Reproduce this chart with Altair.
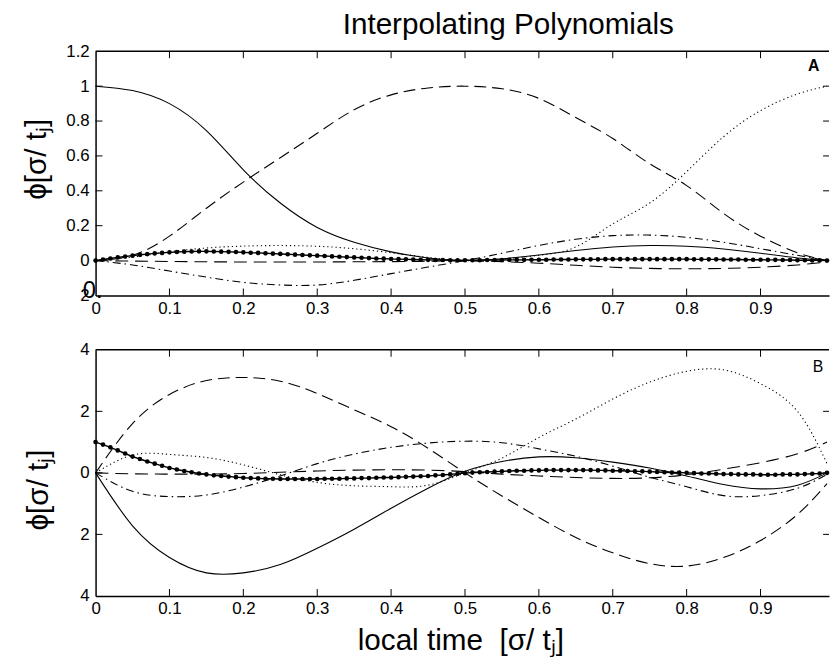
import altair as alt
import pandas as pd

FONT = "Liberation Sans"
W = 742
XMAX = 0.9927
HA = 247
HB = 249

# ---------------- data ----------------
x_coarse = [0.0, 0.05, 0.1, 0.15, 0.2, 0.25, 0.3, 0.35, 0.4, 0.45, 0.5,
            0.55, 0.6, 0.65, 0.7, 0.75, 0.8, 0.85, 0.9, 0.95, 0.99]
x_fine = [round(i * 0.01, 2) for i in range(100)]
x_label_vals = [0, 0.1, 0.2, 0.3, 0.4, 0.5, 0.6, 0.7, 0.8, 0.9]
x_tick_vals = [0.1, 0.2, 0.3, 0.4, 0.5, 0.6, 0.7, 0.8, 0.9]

# Panel A
a_solid = [1.0, 0.975, 0.9, 0.745, 0.52, 0.33, 0.19, 0.105, 0.05, 0.015, 0.0,
           0.01, 0.032, 0.058, 0.078, 0.086, 0.082, 0.066, 0.042, 0.015, 0.001]
a_dashed = [0.0, 0.03, 0.14, 0.3, 0.45, 0.59, 0.73, 0.865, 0.95, 0.99, 1.0,
            0.985, 0.93, 0.82, 0.70, 0.555, 0.43, 0.27, 0.14, 0.045, 0.0]
a_dotted = [0.0, 0.02, 0.05, 0.072, 0.083, 0.086, 0.082, 0.068, 0.045, 0.018, 0.0,
            0.008, 0.03, 0.078, 0.21, 0.33, 0.51, 0.71, 0.86, 0.955, 1.0]
a_dashdot = [0.0, -0.025, -0.06, -0.095, -0.125, -0.14, -0.14, -0.113, -0.075, -0.037, 0.0,
             0.042, 0.087, 0.122, 0.143, 0.146, 0.133, 0.105, 0.068, 0.03, 0.0]
a_longdash = [0.0, -0.003, -0.005, -0.007, -0.008, -0.008, -0.008, -0.007, -0.006, -0.004, -0.002,
              -0.006, -0.015, -0.027, -0.038, -0.045, -0.047, -0.045, -0.038, -0.025, -0.008]
a_markers = [0.000, 0.006, 0.012, 0.018, 0.023, 0.028, 0.033, 0.037, 0.041, 0.044,
             0.047, 0.049, 0.051, 0.052, 0.053, 0.053, 0.052, 0.051, 0.050, 0.049,
             0.047, 0.045, 0.044, 0.042, 0.040, 0.038, 0.036, 0.034, 0.032, 0.030,
             0.028, 0.026, 0.024, 0.022, 0.020, 0.018, 0.016, 0.014, 0.012, 0.011,
             0.009, 0.008, 0.007, 0.006, 0.005, 0.004, 0.003, 0.003, 0.002, 0.002,
             0.002, 0.002, 0.002, 0.003, 0.003, 0.003, 0.004, 0.004, 0.004, 0.005,
             0.005, 0.005, 0.006, 0.006, 0.006, 0.007, 0.007, 0.007, 0.007, 0.008,
             0.008, 0.008, 0.008, 0.008, 0.008, 0.008, 0.008, 0.008, 0.008, 0.008,
             0.008, 0.007, 0.007, 0.007, 0.007, 0.006, 0.006, 0.006, 0.005, 0.005,
             0.005, 0.004, 0.004, 0.003, 0.003, 0.002, 0.002, 0.001, 0.001, 0.000]
a_y_vals = [-0.2, 0, 0.2, 0.4, 0.6, 0.8, 1.0, 1.2]
a_y_ticks = [0, 0.2, 0.4, 0.6, 0.8, 1.0]

# Panel B
b_solid = [0.0, -1.72, -2.75, -3.25, -3.25, -2.98, -2.45, -1.83, -1.15, -0.5, 0.05,
           0.37, 0.52, 0.49, 0.35, 0.16, -0.1, -0.38, -0.52, -0.4, 0.0]
b_dashed = [0.0, 1.6, 2.55, 3.0, 3.1, 2.98, 2.58, 2.05, 1.5, 0.8, 0.0,
            -0.75, -1.45, -2.1, -2.6, -2.95, -3.03, -2.75, -2.2, -1.35, -0.35]
b_dotted = [0.0, 0.58, 0.6, 0.5, 0.26, -0.06, -0.31, -0.42, -0.45, -0.4, 0.0,
            0.48, 1.15, 1.75, 2.4, 2.95, 3.3, 3.35, 2.9, 2.0, 0.3]
b_dashdot = [0.0, -0.6, -0.77, -0.72, -0.46, -0.1, 0.3, 0.61, 0.83, 0.97, 1.03,
             0.98, 0.78, 0.54, 0.22, -0.14, -0.45, -0.74, -0.74, -0.5, -0.05]
b_longdash = [0.0, -0.03, -0.04, -0.04, -0.02, 0.02, 0.06, 0.09, 0.1, 0.09, 0.04,
              -0.04, -0.1, -0.15, -0.18, -0.16, -0.06, 0.12, 0.33, 0.62, 1.0]
b_markers = [1.00, 0.92, 0.83, 0.73, 0.63, 0.53, 0.45, 0.37, 0.30, 0.23,
             0.16, 0.11, 0.06, 0.02, -0.02, -0.05, -0.08, -0.10, -0.12, -0.14,
             -0.16, -0.17, -0.18, -0.19, -0.19, -0.20, -0.20, -0.20, -0.20, -0.20,
             -0.20, -0.19, -0.19, -0.19, -0.18, -0.18, -0.17, -0.17, -0.16, -0.15,
             -0.15, -0.14, -0.13, -0.12, -0.11, -0.10, -0.08, -0.07, -0.05, -0.03,
             -0.01, 0.01, 0.02, 0.03, 0.04, 0.05, 0.06, 0.07, 0.07, 0.08,
             0.08, 0.09, 0.09, 0.09, 0.09, 0.09, 0.09, 0.09, 0.08, 0.08,
             0.07, 0.07, 0.06, 0.05, 0.05, 0.04, 0.03, 0.02, 0.01, 0.01,
             0.00, -0.01, -0.02, -0.02, -0.03, -0.04, -0.04, -0.05, -0.05, -0.05,
             -0.06, -0.06, -0.06, -0.05, -0.05, -0.05, -0.04, -0.03, -0.02, 0.00]
b_y_vals = [-4, -2, 0, 2, 4]
b_y_ticks = [-2, 0, 2]

title_text = "Interpolating Polynomials"
y_title = "\u03d5[\u03c3/ t\u2c7c]"
x_title = "local time\u00a0 [\u03c3/ t\u2c7c]"

STYLES = {
    "solid": dict(),
    "dashed": dict(strokeDash=[12, 6]),
    "dotted": dict(strokeDash=[1.2, 3]),
    "dashdot": dict(strokeDash=[8, 4, 1.5, 4]),
    "longdash": dict(strokeDash=[13, 7]),
}


def build_panel(curves, markers, ydom, yvals, yticks, H, ylabel_expr,
                ytitle_x, ytitle_y, xtitle, letter, letter_xy, extras):
    xaxis_kw = dict(values=x_label_vals,
                    labelExpr="'' + round(datum.value*10)/10",
                    labelFont=FONT, labelFontSize=17, labelColor="black",
                    labelPadding=5, labelFlush=False, labelOverlap=False,
                    ticks=False, grid=False, domainColor="black", domainWidth=1.5)
    if xtitle:
        xaxis = alt.Axis(title=xtitle, titleFont=FONT, titleFontSize=30,
                         titleFontWeight="normal", titleColor="black",
                         titleX=W / 2 - 2, titleY=54, titleBaseline="alphabetic",
                         **xaxis_kw)
    else:
        xaxis = alt.Axis(title=None, **xaxis_kw)
    yaxis = alt.Axis(values=yvals, labelExpr=ylabel_expr,
                     labelFont=FONT, labelFontSize=17, labelColor="black",
                     labelPadding=6.5, labelFlush=False, labelOverlap=False,
                     ticks=False, grid=False, domainColor="black", domainWidth=1.5,
                     title=y_title, titleFont=FONT, titleFontSize=30,
                     titleFontWeight="normal", titleColor="black",
                     titleX=ytitle_x, titleY=ytitle_y, titleAngle=270,
                     titleBaseline="alphabetic")
    X = alt.X("x:Q", scale=alt.Scale(domain=[0, XMAX], nice=False, zero=False), axis=xaxis)
    Y = alt.Y("y:Q", scale=alt.Scale(domain=ydom, nice=False, zero=False), axis=yaxis)

    layers = []
    for style, vals in curves:
        df = pd.DataFrame({"x": x_coarse, "y": vals})
        layers.append(alt.Chart(df).mark_line(color="black", strokeWidth=1.1,
                                              interpolate="natural",
                                              **STYLES[style]).encode(x=X, y=Y))
    mdf = pd.DataFrame({"x": x_fine, "y": markers})
    layers.append(alt.Chart(mdf).mark_line(color="black", strokeWidth=1.4).encode(x=X, y=Y))
    layers.append(alt.Chart(mdf).mark_point(filled=True, shape="circle", size=22,
                                            color="black", opacity=1).encode(x=X, y=Y))
    # inward ticks
    xt = pd.DataFrame({"x": x_tick_vals})
    layers.append(alt.Chart(xt).mark_rule(color="black", strokeWidth=1).encode(
        x=X, y=alt.value(H), y2=alt.value(H - 7)))
    layers.append(alt.Chart(xt).mark_rule(color="black", strokeWidth=1).encode(
        x=X, y=alt.value(0), y2=alt.value(7)))
    yt = pd.DataFrame({"y": yticks})
    layers.append(alt.Chart(yt).mark_rule(color="black", strokeWidth=1).encode(
        y=Y, x=alt.value(0), x2=alt.value(7)))
    layers.append(alt.Chart(yt).mark_rule(color="black", strokeWidth=1).encode(
        y=Y, x=alt.value(W - 6), x2=alt.value(W)))
    # top frame
    layers.append(alt.Chart(pd.DataFrame({"k": [0]})).mark_rule(
        color="black", strokeWidth=1.5).encode(
        x=alt.value(0), x2=alt.value(W), y=alt.value(0)))
    # panel letter
    layers.append(alt.Chart(pd.DataFrame({"t": [letter[0]]})).mark_text(
        font=FONT, fontSize=16, fontWeight=letter[1], color="black",
        align="center", baseline="alphabetic").encode(
        text="t:N", x=alt.value(letter_xy[0]), y=alt.value(letter_xy[1])))
    for t, xv, yv, fs, al in extras:
        layers.append(alt.Chart(pd.DataFrame({"t": [t]})).mark_text(
            font=FONT, fontSize=fs, color="black", align=al,
            baseline="alphabetic").encode(
            text="t:N", x=alt.value(xv), y=alt.value(yv)))
    return alt.layer(*layers).properties(width=W, height=H)


top = build_panel(
    [("solid", a_solid), ("dashed", a_dashed), ("dotted", a_dotted),
     ("dashdot", a_dashdot), ("longdash", a_longdash)],
    a_markers, [-0.2, 1.2], a_y_vals, a_y_ticks, HA,
    "datum.value < -0.1 ? '2' : '' + round(datum.value*10)/10",
    -50.5, 108.7, None, ("A", "bold"), (726.5, 20),
    [(title_text, 417.5, -17.5, 30, "center"), ("0.", -13, HA + 3, 24, "left")])

bottom = build_panel(
    [("solid", b_solid), ("dashed", b_dashed), ("dotted", b_dotted),
     ("dashdot", b_dashdot), ("longdash", b_longdash)],
    b_markers, [-4, 4], b_y_vals, b_y_ticks, HB,
    "'' + abs(datum.value)",
    -48.5, 141.3, x_title, ("B", "normal"), (731, 22.6), [])

chart = alt.vconcat(top, bottom, spacing=55, bounds="flush").properties(
    padding={"left": 13.6, "top": -2, "right": 0, "bottom": 0}
).configure_view(stroke=None)

chart.save("out.html", embed_options={"renderer": "svg", "actions": False})
